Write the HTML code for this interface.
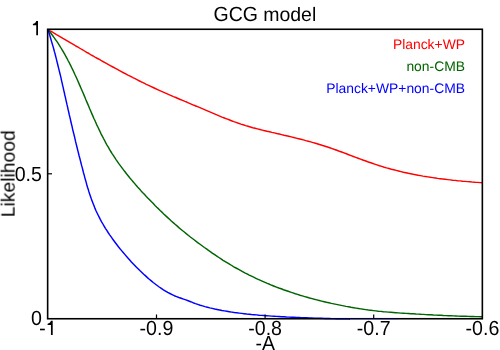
<!DOCTYPE html>
<html><head><meta charset="utf-8"><style>
html,body{margin:0;padding:0;background:#fff;}
body{width:500px;height:350px;overflow:hidden;}
svg{display:block;will-change:transform;font-family:"Liberation Sans",sans-serif;text-rendering:geometricPrecision;}
</style></head><body>
<svg width="500" height="350" viewBox="0 0 500 350">
<rect width="500" height="350" fill="#fff"/>
<g fill="none" stroke-width="1.45" stroke-linejoin="round" stroke-linecap="butt">
<path stroke="#ff0000" d="M48.0,29.5 L50.1,30.8 L52.3,32.0 L54.4,33.3 L56.5,34.6 L58.7,35.8 L60.8,37.1 L62.9,38.4 L65.1,39.6 L67.2,40.9 L69.4,42.2 L71.5,43.4 L73.7,44.7 L75.8,46.0 L78.0,47.2 L80.2,48.5 L82.3,49.7 L84.5,51.0 L86.7,52.3 L88.9,53.5 L91.0,54.8 L93.2,56.0 L95.4,57.3 L97.6,58.5 L99.8,59.7 L101.9,61.0 L104.1,62.2 L106.3,63.4 L108.5,64.6 L110.7,65.8 L112.9,67.0 L115.1,68.2 L117.4,69.4 L119.6,70.6 L121.8,71.8 L124.0,73.0 L126.2,74.1 L128.4,75.3 L130.7,76.4 L132.9,77.6 L135.1,78.7 L137.4,79.8 L139.6,81.0 L141.8,82.1 L144.1,83.2 L146.3,84.3 L148.6,85.3 L150.8,86.4 L153.1,87.5 L155.3,88.5 L157.6,89.6 L159.8,90.6 L162.1,91.6 L164.4,92.6 L166.7,93.6 L168.9,94.6 L171.2,95.6 L173.5,96.6 L175.8,97.5 L178.0,98.5 L180.3,99.5 L182.6,100.4 L184.9,101.4 L187.2,102.3 L189.5,103.3 L191.8,104.3 L194.1,105.3 L196.4,106.2 L198.7,107.2 L201.1,108.2 L203.4,109.2 L205.7,110.2 L208.0,111.2 L210.4,112.2 L212.7,113.2 L215.0,114.2 L217.4,115.2 L219.7,116.1 L222.0,117.1 L224.4,118.0 L226.7,118.9 L229.1,119.8 L231.4,120.7 L233.8,121.6 L236.1,122.4 L238.5,123.3 L240.9,124.1 L243.2,124.8 L245.6,125.6 L248.0,126.3 L250.4,127.0 L252.8,127.7 L255.1,128.3 L257.5,128.9 L259.9,129.5 L262.3,130.1 L264.7,130.7 L267.1,131.3 L269.5,131.8 L271.9,132.4 L274.3,132.9 L276.7,133.5 L279.2,134.0 L281.6,134.6 L284.0,135.2 L286.4,135.7 L288.8,136.3 L291.3,136.9 L293.7,137.5 L296.1,138.1 L298.5,138.7 L301.0,139.3 L303.4,139.9 L305.8,140.6 L308.2,141.2 L310.7,141.9 L313.1,142.6 L315.5,143.3 L317.9,144.0 L320.3,144.7 L322.7,145.5 L325.1,146.2 L327.5,147.0 L329.8,147.8 L332.2,148.6 L334.6,149.5 L336.9,150.3 L339.3,151.2 L341.7,152.0 L344.0,152.9 L346.4,153.8 L348.7,154.7 L351.1,155.6 L353.4,156.5 L355.8,157.4 L358.1,158.2 L360.5,159.1 L362.8,160.0 L365.2,160.8 L367.6,161.7 L369.9,162.5 L372.3,163.3 L374.6,164.1 L377.0,164.9 L379.4,165.7 L381.8,166.4 L384.2,167.2 L386.6,167.9 L389.0,168.5 L391.4,169.2 L393.8,169.8 L396.2,170.4 L398.6,171.0 L401.0,171.6 L403.4,172.2 L405.9,172.7 L408.3,173.3 L410.7,173.8 L413.2,174.3 L415.6,174.7 L418.1,175.2 L420.5,175.6 L423.0,176.1 L425.4,176.5 L427.9,176.9 L430.4,177.3 L432.8,177.6 L435.3,178.0 L437.8,178.4 L440.2,178.7 L442.7,179.0 L445.2,179.3 L447.7,179.6 L450.2,179.9 L452.6,180.2 L455.1,180.4 L457.6,180.7 L460.1,180.9 L462.6,181.2 L465.1,181.4 L467.6,181.6 L470.1,181.8 L472.6,182.1 L475.1,182.3 L477.6,182.4 L480.1,182.6 L482.5,182.8"/>
<path stroke="#006400" d="M48.0,29.6 L49.6,31.6 L51.1,33.5 L52.6,35.5 L54.1,37.6 L55.5,39.6 L57.0,41.7 L58.3,43.7 L59.7,45.8 L61.0,48.0 L62.3,50.1 L63.5,52.2 L64.8,54.4 L66.0,56.6 L67.2,58.8 L68.3,61.0 L69.5,63.2 L70.6,65.4 L71.7,67.7 L72.8,69.9 L73.9,72.2 L74.9,74.5 L76.0,76.7 L77.0,79.0 L78.0,81.3 L79.0,83.6 L80.0,85.9 L81.0,88.2 L82.0,90.5 L83.0,92.8 L84.0,95.1 L85.0,97.5 L85.9,99.8 L86.9,102.1 L87.9,104.4 L88.9,106.7 L89.8,109.0 L90.8,111.3 L91.8,113.6 L92.8,115.9 L93.8,118.2 L94.9,120.5 L95.9,122.8 L96.9,125.1 L98.0,127.3 L99.1,129.6 L100.1,131.8 L101.2,134.1 L102.4,136.3 L103.5,138.5 L104.7,140.7 L105.8,142.9 L107.0,145.1 L108.3,147.2 L109.5,149.4 L110.8,151.5 L112.1,153.6 L113.5,155.7 L114.8,157.7 L116.2,159.8 L117.6,161.8 L119.0,163.9 L120.5,165.9 L122.0,167.9 L123.5,169.9 L125.0,171.8 L126.5,173.8 L128.1,175.7 L129.7,177.7 L131.3,179.6 L132.9,181.5 L134.5,183.4 L136.1,185.3 L137.8,187.2 L139.5,189.0 L141.1,190.9 L142.8,192.7 L144.6,194.5 L146.3,196.4 L148.0,198.2 L149.8,200.0 L151.5,201.8 L153.3,203.6 L155.0,205.4 L156.8,207.2 L158.6,208.9 L160.4,210.7 L162.2,212.4 L164.0,214.2 L165.8,215.9 L167.7,217.6 L169.5,219.3 L171.3,221.0 L173.2,222.6 L175.1,224.3 L177.0,225.9 L178.9,227.6 L180.8,229.2 L182.7,230.8 L184.6,232.3 L186.5,233.9 L188.5,235.5 L190.4,237.0 L192.4,238.5 L194.4,240.0 L196.4,241.6 L198.4,243.1 L200.4,244.5 L202.4,246.0 L204.4,247.5 L206.5,248.9 L208.5,250.4 L210.6,251.8 L212.6,253.3 L214.7,254.7 L216.8,256.1 L218.9,257.5 L221.0,258.9 L223.1,260.3 L225.2,261.6 L227.4,262.9 L229.5,264.2 L231.7,265.5 L233.8,266.8 L236.0,268.0 L238.2,269.2 L240.4,270.4 L242.6,271.6 L244.8,272.8 L247.0,273.9 L249.2,275.1 L251.5,276.2 L253.7,277.2 L255.9,278.3 L258.2,279.4 L260.5,280.4 L262.7,281.4 L265.0,282.4 L267.3,283.4 L269.6,284.3 L271.9,285.3 L274.2,286.2 L276.5,287.1 L278.8,288.0 L281.2,288.8 L283.5,289.7 L285.8,290.5 L288.2,291.3 L290.5,292.1 L292.9,292.9 L295.3,293.7 L297.6,294.4 L300.0,295.2 L302.4,295.9 L304.8,296.6 L307.2,297.3 L309.6,298.0 L312.0,298.6 L314.4,299.3 L316.8,299.9 L319.2,300.5 L321.6,301.1 L324.1,301.7 L326.5,302.3 L328.9,302.8 L331.4,303.4 L333.8,303.9 L336.3,304.4 L338.7,304.9 L341.2,305.4 L343.6,305.9 L346.1,306.4 L348.6,306.8 L351.0,307.3 L353.5,307.7 L356.0,308.1 L358.4,308.5 L360.9,308.9 L363.4,309.3 L365.9,309.6 L368.4,310.0 L370.9,310.3 L373.4,310.6 L375.8,310.9 L378.3,311.2 L380.8,311.4 L383.3,311.7 L385.8,311.9 L388.3,312.1 L390.8,312.3 L393.3,312.5 L395.8,312.7 L398.4,312.9 L400.9,313.1 L403.4,313.2 L405.9,313.4 L408.4,313.5 L410.9,313.7 L413.4,313.8 L415.9,314.0 L418.4,314.1 L420.9,314.3 L423.4,314.4 L425.9,314.6 L428.4,314.7 L430.9,314.8 L433.4,315.0 L436.0,315.1 L438.5,315.2 L441.0,315.3 L443.5,315.5 L446.0,315.6 L448.5,315.7 L450.9,315.8 L453.4,315.9 L455.9,316.0 L458.4,316.1 L460.9,316.2 L463.4,316.3 L465.9,316.3 L468.4,316.4 L470.8,316.5 L473.3,316.5 L475.8,316.6 L478.3,316.6 L480.7,316.7 L482.5,316.7"/>
<path stroke="#0000ff" d="M48.0,29.6 L48.8,32.0 L49.5,34.4 L50.2,36.8 L50.9,39.2 L51.6,41.6 L52.3,44.0 L53.0,46.4 L53.7,48.8 L54.3,51.2 L55.0,53.6 L55.6,56.0 L56.2,58.4 L56.8,60.9 L57.4,63.3 L58.0,65.7 L58.6,68.1 L59.2,70.6 L59.8,73.0 L60.4,75.4 L61.0,77.9 L61.5,80.3 L62.1,82.8 L62.6,85.2 L63.2,87.6 L63.7,90.1 L64.3,92.5 L64.8,95.0 L65.4,97.4 L65.9,99.8 L66.5,102.3 L67.0,104.7 L67.6,107.2 L68.1,109.6 L68.7,112.0 L69.2,114.5 L69.8,116.9 L70.4,119.3 L70.9,121.8 L71.5,124.2 L72.1,126.6 L72.6,129.1 L73.2,131.5 L73.8,133.9 L74.4,136.3 L75.0,138.8 L75.5,141.2 L76.1,143.6 L76.7,146.0 L77.3,148.5 L77.9,150.9 L78.5,153.3 L79.1,155.7 L79.8,158.2 L80.4,160.6 L81.0,163.0 L81.6,165.4 L82.3,167.9 L82.9,170.3 L83.5,172.7 L84.2,175.1 L84.8,177.6 L85.5,180.0 L86.2,182.4 L86.8,184.8 L87.5,187.2 L88.3,189.6 L89.0,192.0 L89.8,194.4 L90.6,196.8 L91.4,199.1 L92.3,201.5 L93.2,203.8 L94.1,206.1 L95.0,208.4 L96.0,210.7 L97.1,213.0 L98.2,215.2 L99.3,217.4 L100.4,219.6 L101.6,221.8 L102.9,224.0 L104.1,226.1 L105.4,228.3 L106.8,230.4 L108.1,232.5 L109.5,234.6 L111.0,236.6 L112.4,238.7 L113.9,240.7 L115.4,242.7 L116.9,244.7 L118.4,246.7 L120.0,248.7 L121.6,250.6 L123.2,252.5 L124.8,254.4 L126.4,256.3 L128.1,258.2 L129.7,260.0 L131.4,261.9 L133.1,263.7 L134.8,265.5 L136.5,267.3 L138.3,269.0 L140.1,270.8 L141.9,272.5 L143.7,274.2 L145.6,275.9 L147.4,277.6 L149.3,279.3 L151.3,280.9 L153.2,282.5 L155.2,284.0 L157.2,285.5 L159.2,287.0 L161.3,288.4 L163.4,289.8 L165.5,291.1 L167.7,292.4 L169.9,293.5 L172.1,294.6 L174.3,295.7 L176.6,296.6 L178.9,297.5 L181.2,298.3 L183.5,299.1 L185.9,299.9 L188.2,300.8 L190.6,301.7 L193.0,302.7 L195.4,303.6 L197.8,304.4 L200.2,305.2 L202.6,305.9 L205.0,306.6 L207.4,307.2 L209.8,307.9 L212.2,308.4 L214.7,309.0 L217.1,309.5 L219.6,310.0 L222.0,310.5 L224.4,310.9 L226.9,311.3 L229.3,311.7 L231.8,312.1 L234.3,312.5 L236.7,312.8 L239.2,313.1 L241.7,313.4 L244.1,313.7 L246.6,314.0 L249.1,314.2 L251.6,314.5 L254.1,314.7 L256.6,314.9 L259.1,315.2 L261.5,315.4 L264.0,315.5 L266.5,315.7 L269.0,315.9 L271.5,316.1 L274.0,316.2 L276.5,316.4 L279.0,316.5 L281.5,316.7 L284.0,316.8 L286.5,317.0 L289.0,317.1 L291.6,317.2 L294.1,317.3 L296.6,317.4 L299.1,317.5 L301.6,317.6 L304.1,317.7 L306.6,317.8 L309.1,317.9 L311.6,318.0 L314.1,318.1 L316.6,318.2 L319.1,318.2 L321.6,318.3 L324.1,318.4 L326.6,318.4 L329.1,318.5 L331.6,318.6 L334.1,318.6 L336.6,318.7 L339.1,318.7 L341.6,318.8 L344.1,318.8 L346.6,318.8 L349.0,318.9 L350.0,318.9"/>
</g>
<g stroke="#000" stroke-width="1.2" fill="none">
<path d="M156.5,318.4V314.4 M265.1,318.4V314.4 M373.7,318.4V314.4"/>
<path d="M48,173.8H52"/>
</g>
<rect x="47.65" y="29.27" width="434.7" height="289.48" fill="none" stroke="#000" stroke-width="1.6"/>
<path d="M320,318.75H398" stroke="#0000ff" stroke-width="1.6" stroke-opacity="0.2" fill="none"/>
<g font-size="19.5" fill="#000" text-anchor="middle" opacity="0.999">
<text transform="translate(213.5,20.7) scale(1,1.056)" text-anchor="start">GCG</text><text x="263.2" y="20.6" text-anchor="start">model</text>
<path d="M50.95,320.80 C50.55,322.30 49.35,323.50 47.60,323.70 L47.60,324.90 L50.95,324.90 L50.95,334.90 L52.70,334.90 L52.70,320.80 Z"/><rect x="40" y="328.7" width="4.8" height="1.6"/>
<text transform="translate(156.4,335) scale(1,1.04)" font-size="19.6">-0.9</text>
<text transform="translate(265.1,335) scale(1,1.04)" font-size="19.6">-0.8</text>
<text transform="translate(373.7,335) scale(1,1.04)" font-size="19.6">-0.7</text>
<text transform="translate(482.4,335) scale(1,1.04)" font-size="19.6">-0.6</text>
<text transform="translate(265.2,349.7) scale(1,1.05)">-A</text>
<text transform="translate(14.6,173.7) rotate(-90)" font-size="19.3">Likelihood</text>
</g>
<g font-size="19.75" fill="#000" text-anchor="end" opacity="0.999">
<path d="M36.25,21.10 C35.85,22.60 34.65,23.80 32.90,24.00 L32.90,25.20 L36.25,25.20 L36.25,35.20 L38.00,35.20 L38.00,21.10 Z"/>
<text transform="translate(41.9,180.6) scale(1,1.04)" font-size="19.6">0.5</text>
<text transform="translate(41.9,325.3) scale(1,1.04)" font-size="19.6">0</text>
</g>
<g font-size="13.88" text-anchor="end" style="filter:opacity(0.999)">
<text x="465" y="49.2" fill="#ff0000">Planck+WP</text>
<text x="465" y="71.4" fill="#006400">non-CMB</text>
<text x="465" y="93.2" fill="#0000ff">Planck+WP+non-CMB</text>
</g>
</svg>
</body></html>
